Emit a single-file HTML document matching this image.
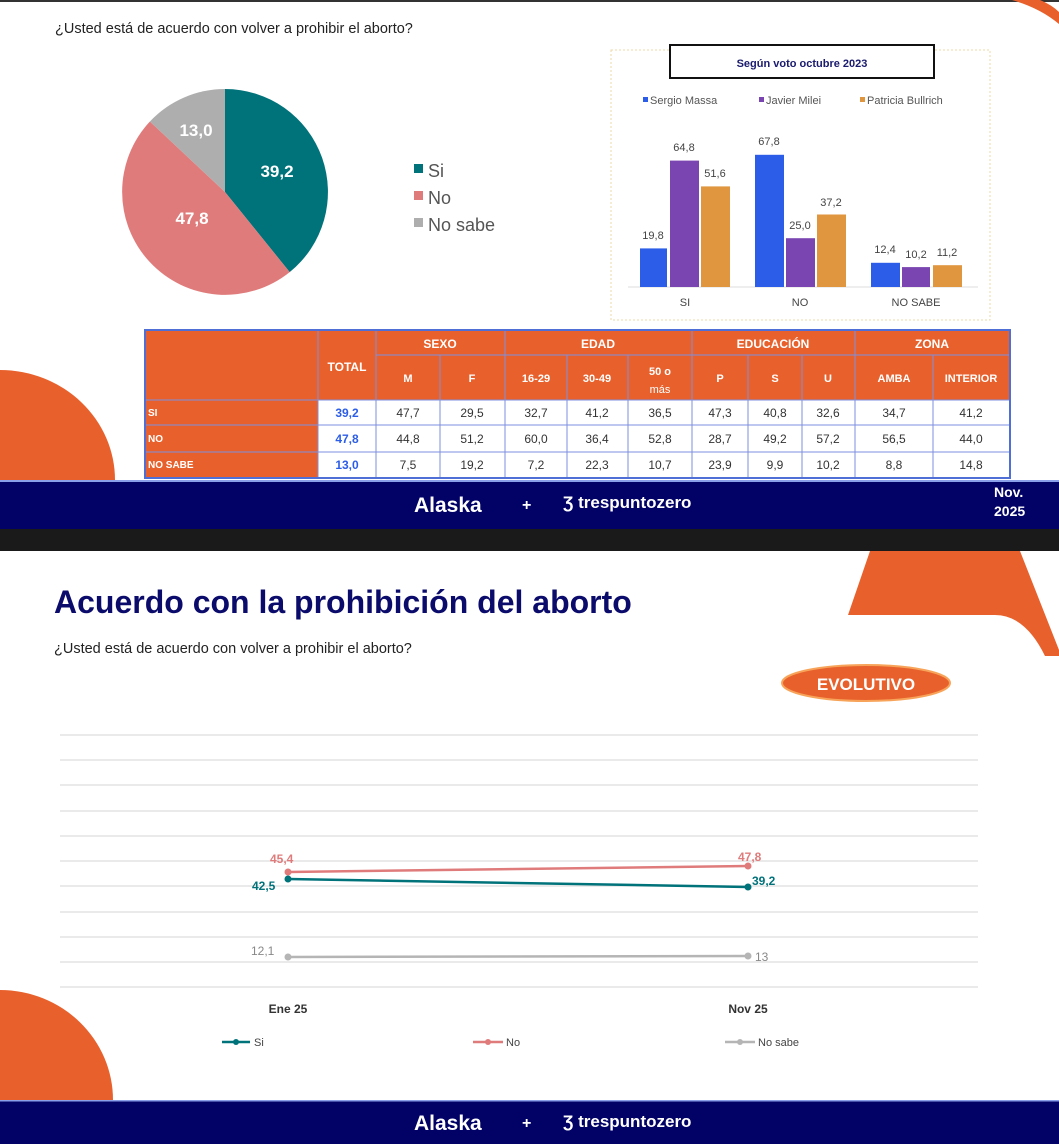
<!DOCTYPE html>
<html><head><meta charset="utf-8"><style>
body{margin:0;width:1059px;height:1144px;overflow:hidden;background:#fff;font-family:"Liberation Sans",sans-serif}
svg{display:block}
</style></head><body>
<svg width="1059" height="1144" viewBox="0 0 1059 1144" xmlns="http://www.w3.org/2000/svg" font-family="Liberation Sans, sans-serif">
<rect x="0" y="0" width="1059" height="1144" fill="#fff"/>
<rect x="0" y="0" width="1059" height="2" fill="#333"/>
<!-- slide 1 decorations -->
<path d="M1012,0 L1040,0 Q1052,5 1059,12 L1059,24 Q1040,8 1012,0Z" fill="#e8612c"/>
<path d="M0,370 A115,110 0 0 1 115,480 L0,480Z" fill="#e8612c"/>
<text x="55" y="33" font-size="14.5" fill="#222">¿Usted está de acuerdo con volver a prohibir el aborto?</text>
<!-- pie -->
<path d="M225,192 L225,89 A103,103 0 0 1 289.7,272.1Z" fill="#00727a"/>
<path d="M225,192 L289.7,272.1 A103,103 0 0 1 149.9,121.5Z" fill="#e07b7b"/>
<path d="M225,192 L149.9,121.5 A103,103 0 0 1 225,89Z" fill="#aeaeae"/>
<g font-size="17" font-weight="bold" fill="#fff" text-anchor="middle">
<text x="277" y="177">39,2</text><text x="192" y="224">47,8</text><text x="196" y="136">13,0</text></g>
<g font-size="18" fill="#555">
<rect x="414" y="164" width="9" height="9" fill="#00727a"/><text x="428" y="177">Si</text>
<rect x="414" y="191" width="9" height="9" fill="#e07b7b"/><text x="428" y="204">No</text>
<rect x="414" y="218" width="9" height="9" fill="#aeaeae"/><text x="428" y="231">No sabe</text></g>
<!-- bar chart -->
<rect x="611" y="50" width="379" height="270" fill="none" stroke="#ecd9a8" stroke-dasharray="2,2"/>
<rect x="670" y="45" width="264" height="33" fill="#fff" stroke="#111" stroke-width="2"/>
<text x="802" y="67" font-size="11" font-weight="bold" fill="#1a1a6e" text-anchor="middle">Según voto octubre 2023</text>
<g font-size="11" fill="#555">
<rect x="643" y="97" width="5" height="5" fill="#2c5de8"/><text x="650" y="104">Sergio Massa</text>
<rect x="759" y="97" width="5" height="5" fill="#7a45b0"/><text x="766" y="104">Javier Milei</text>
<rect x="860" y="97" width="5" height="5" fill="#e0963e"/><text x="867" y="104">Patricia Bullrich</text></g>
<line x1="628" y1="287" x2="978" y2="287" stroke="#ddd"/>
<g>
<rect x="640" y="248.4" width="27" height="38.6" fill="#2c5de8"/>
<rect x="670" y="160.6" width="29" height="126.4" fill="#7a45b0"/>
<rect x="701" y="186.4" width="29" height="100.6" fill="#e0963e"/>
<rect x="755" y="154.8" width="29" height="132.2" fill="#2c5de8"/>
<rect x="786" y="238.2" width="29" height="48.8" fill="#7a45b0"/>
<rect x="817" y="214.5" width="29" height="72.5" fill="#e0963e"/>
<rect x="871" y="262.8" width="29" height="24.2" fill="#2c5de8"/>
<rect x="902" y="267.1" width="28" height="19.9" fill="#7a45b0"/>
<rect x="933" y="265.2" width="29" height="21.8" fill="#e0963e"/></g>
<g font-size="11" fill="#444" text-anchor="middle">
<text x="653" y="239">19,8</text><text x="684" y="151">64,8</text><text x="715" y="177">51,6</text>
<text x="769" y="145">67,8</text><text x="800" y="229">25,0</text><text x="831" y="206">37,2</text>
<text x="885" y="253">12,4</text><text x="916" y="258">10,2</text><text x="947" y="256">11,2</text>
<text x="685" y="306">SI</text><text x="800" y="306">NO</text><text x="916" y="306">NO SABE</text></g>
<!-- table -->
<rect x="145" y="330" width="865" height="148" fill="#fff" stroke="#4f6fd6" stroke-width="2"/>
<rect x="146" y="331" width="863" height="69" fill="#e8612c"/>
<rect x="146" y="400" width="172" height="77" fill="#e8612c"/>
<g stroke="#7d8fe0" stroke-width="1">
<line x1="146" y1="400" x2="1009" y2="400"/><line x1="146" y1="425" x2="1009" y2="425"/><line x1="146" y1="452" x2="1009" y2="452"/>
<line x1="376" y1="355" x2="1009" y2="355"/>
<line x1="318" y1="331" x2="318" y2="477"/><line x1="376" y1="331" x2="376" y2="477"/><line x1="440" y1="355" x2="440" y2="477"/>
<line x1="505" y1="331" x2="505" y2="477"/><line x1="567" y1="355" x2="567" y2="477"/><line x1="628" y1="355" x2="628" y2="477"/>
<line x1="692" y1="331" x2="692" y2="477"/><line x1="748" y1="355" x2="748" y2="477"/><line x1="802" y1="355" x2="802" y2="477"/>
<line x1="855" y1="331" x2="855" y2="477"/><line x1="933" y1="355" x2="933" y2="477"/></g>
<g font-size="12" font-weight="bold" fill="#fff" text-anchor="middle">
<text x="347" y="371">TOTAL</text><text x="440" y="348">SEXO</text><text x="598" y="348">EDAD</text><text x="773" y="348">EDUCACIÓN</text><text x="932" y="348">ZONA</text>
<g font-size="11"><text x="408" y="382">M</text><text x="472" y="382">F</text><text x="536" y="382">16-29</text><text x="597" y="382">30-49</text><text x="660" y="375">50 o</text><text x="660" y="393" font-weight="normal">más</text>
<text x="720" y="382">P</text><text x="775" y="382">S</text><text x="828" y="382">U</text><text x="894" y="382">AMBA</text><text x="971" y="382">INTERIOR</text></g></g>
<g font-size="10" font-weight="bold" fill="#fff"><text x="148" y="416">SI</text><text x="148" y="442">NO</text><text x="148" y="468">NO SABE</text></g>
<g font-size="12" fill="#333" text-anchor="middle">
<g fill="#2c5de8" font-weight="bold"><text x="347" y="417">39,2</text><text x="347" y="443">47,8</text><text x="347" y="469">13,0</text></g>
<text x="408" y="417">47,7</text><text x="472" y="417">29,5</text><text x="536" y="417">32,7</text><text x="597" y="417">41,2</text><text x="660" y="417">36,5</text><text x="720" y="417">47,3</text><text x="775" y="417">40,8</text><text x="828" y="417">32,6</text><text x="894" y="417">34,7</text><text x="971" y="417">41,2</text>
<text x="408" y="443">44,8</text><text x="472" y="443">51,2</text><text x="536" y="443">60,0</text><text x="597" y="443">36,4</text><text x="660" y="443">52,8</text><text x="720" y="443">28,7</text><text x="775" y="443">49,2</text><text x="828" y="443">57,2</text><text x="894" y="443">56,5</text><text x="971" y="443">44,0</text>
<text x="408" y="469">7,5</text><text x="472" y="469">19,2</text><text x="536" y="469">7,2</text><text x="597" y="469">22,3</text><text x="660" y="469">10,7</text><text x="720" y="469">23,9</text><text x="775" y="469">9,9</text><text x="828" y="469">10,2</text><text x="894" y="469">8,8</text><text x="971" y="469">14,8</text></g>
<!-- footer 1 -->
<rect x="0" y="480" width="1059" height="49" fill="#020266"/>
<rect x="0" y="480" width="1059" height="2" fill="#8aa0e8"/>
<text x="414" y="512" font-size="21" font-weight="bold" fill="#fff">Alaska</text>
<text x="522" y="510" font-size="16" font-weight="bold" fill="#fff">+</text>
<text x="563" y="508" font-size="17" font-weight="bold" fill="#fff">Ʒ trespuntozero</text>
<text x="994" y="497" font-size="14" font-weight="bold" fill="#fff">Nov.</text>
<text x="994" y="516" font-size="14" font-weight="bold" fill="#fff">2025</text>
<rect x="0" y="529" width="1059" height="22" fill="#1a1a1a"/>
<!-- slide 2 -->
<path d="M870,551 L1020,551 L1059,650 L1059,656 L1045,656 Q1025,615 995,615 L848,615Z" fill="#e8612c"/>
<path d="M0,990 A113,110 0 0 1 113,1100 L0,1100Z" fill="#e8612c"/>
<text x="54" y="613" font-size="32" font-weight="bold" fill="#0b0b6b">Acuerdo con la prohibición del aborto</text>
<text x="54" y="653" font-size="14.5" fill="#222">¿Usted está de acuerdo con volver a prohibir el aborto?</text>
<ellipse cx="866" cy="683" rx="84" ry="18" fill="#e8612c" stroke="#f7a45a" stroke-width="2"/>
<text x="866" y="690" font-size="17" font-weight="bold" fill="#fff" text-anchor="middle">EVOLUTIVO</text>
<g stroke="#e4e4e4" stroke-width="1.5">
<line x1="60" y1="735" x2="978" y2="735"/><line x1="60" y1="760" x2="978" y2="760"/><line x1="60" y1="785" x2="978" y2="785"/><line x1="60" y1="811" x2="978" y2="811"/><line x1="60" y1="836" x2="978" y2="836"/><line x1="60" y1="861" x2="978" y2="861"/><line x1="60" y1="886" x2="978" y2="886"/><line x1="60" y1="912" x2="978" y2="912"/><line x1="60" y1="937" x2="978" y2="937"/><line x1="60" y1="962" x2="978" y2="962"/><line x1="60" y1="987" x2="978" y2="987"/></g>
<polyline points="288,872 748,866" fill="none" stroke="#e07b7b" stroke-width="2.5"/>
<polyline points="288,879 748,887" fill="none" stroke="#00727a" stroke-width="2.5"/>
<polyline points="288,957 748,956" fill="none" stroke="#b5b5b5" stroke-width="2.5"/>
<circle cx="288" cy="872" r="3.5" fill="#e07b7b"/><circle cx="748" cy="866" r="3.5" fill="#e07b7b"/>
<circle cx="288" cy="879" r="3.5" fill="#00727a"/><circle cx="748" cy="887" r="3.5" fill="#00727a"/>
<circle cx="288" cy="957" r="3.5" fill="#b5b5b5"/><circle cx="748" cy="956" r="3.5" fill="#b5b5b5"/>
<g font-size="12" font-weight="bold">
<text x="270" y="863" fill="#e07b7b">45,4</text><text x="738" y="861" fill="#e07b7b">47,8</text>
<text x="252" y="890" fill="#00727a">42,5</text><text x="752" y="885" fill="#00727a">39,2</text>
<text x="251" y="955" fill="#888" font-weight="normal">12,1</text><text x="755" y="961" fill="#888" font-weight="normal">13</text>
<text x="288" y="1013" fill="#333" text-anchor="middle">Ene 25</text><text x="748" y="1013" fill="#333" text-anchor="middle">Nov 25</text></g>
<g font-size="11" fill="#444">
<line x1="222" y1="1042" x2="250" y2="1042" stroke="#00727a" stroke-width="2.5"/><circle cx="236" cy="1042" r="3" fill="#00727a"/><text x="254" y="1046">Si</text>
<line x1="473" y1="1042" x2="503" y2="1042" stroke="#e07b7b" stroke-width="2.5"/><circle cx="488" cy="1042" r="3" fill="#e07b7b"/><text x="506" y="1046">No</text>
<line x1="725" y1="1042" x2="755" y2="1042" stroke="#b5b5b5" stroke-width="2.5"/><circle cx="740" cy="1042" r="3" fill="#b5b5b5"/><text x="758" y="1046">No sabe</text></g>
<rect x="0" y="1100" width="1059" height="44" fill="#020266"/>
<rect x="0" y="1100" width="1059" height="1.5" fill="#8aa0e8"/>
<text x="414" y="1130" font-size="21" font-weight="bold" fill="#fff">Alaska</text>
<text x="522" y="1128" font-size="16" font-weight="bold" fill="#fff">+</text>
<text x="563" y="1127" font-size="17" font-weight="bold" fill="#fff">Ʒ trespuntozero</text>
</svg>
</body></html>
